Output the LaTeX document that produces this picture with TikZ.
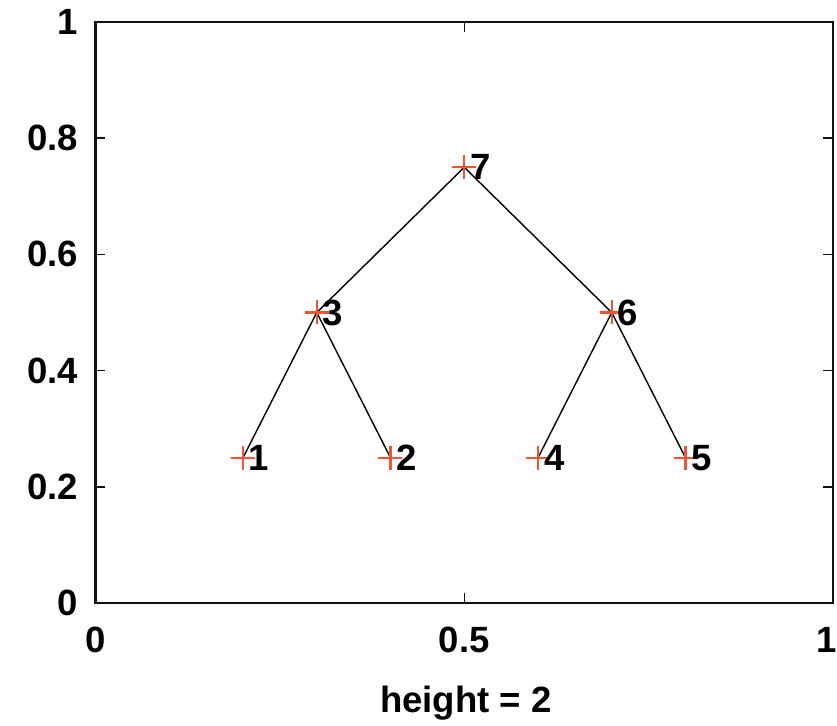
\documentclass[tikz,border=0pt]{standalone}
\usepackage{fontspec}
\setsansfont{Liberation Sans}
\usetikzlibrary{calc}
\definecolor{markred}{HTML}{EE5530}
\definecolor{axisblack}{HTML}{111111}

\begin{document}
\begin{tikzpicture}[
  font=\sffamily\bfseries\fontsize{26}{30}\selectfont,
  every node/.style={outer sep=0pt, inner sep=0pt},
  axisline/.style={axisblack, line width=1.6pt},
  tickline/.style={axisblack, line width=1.0pt},
  treeline/.style={black, line width=1.0pt},
  plusmark/.style={markred, line width=1.6pt}
]

\def\W{18.4375}
\def\H{14.525}
\def\T{0.25}
\def\M{0.3}

\useasboundingbox (-2.3875,-3.05) rectangle (18.5375,15.075);

% Tree points in data units
\foreach \n/\x/\y in {1/0.2/0.25, 2/0.4/0.25, 3/0.3/0.5, 4/0.6/0.25,
                      5/0.8/0.25, 6/0.7/0.5, 7/0.5/0.75}{
  \coordinate (p\n) at ({\x*\W},{\y*\H});
}

% Axes box and ticks
\draw[axisline] (0,0) rectangle (\W,\H);
\foreach \v in {0.2,0.4,0.6,0.8}{
  \draw[tickline] (0,\v*\H) -- ++(\T,0);
  \draw[tickline] (\W,\v*\H) -- ++(-\T,0);
  \node[anchor=east] (y\v) at (-0.44,\v*\H) {\v};
}
\draw[tickline] ({0.5*\W},0) -- ++(0,\T);
\draw[tickline] ({0.5*\W},\H) -- ++(0,-\T);

% Tick labels
\node[anchor=east] (ymin) at (-0.44,0) {0};
\node[anchor=east] (ymax) at (-0.44,\H) {1};
\node[anchor=north] (xmin) at (0,-0.6) {0};
\node[anchor=north] (xmid) at ({0.5*\W},-0.6) {0.5};
\node[anchor=north east] (xmax) at (\W+0.09,-0.6) {1};

% Axis label
\node[anchor=base] (xlabel) at ({0.5*\W+0.04},-2.725) {height = 2};

% Tree edges
\foreach \a/\b in {7/3, 7/6, 3/1, 3/2, 6/4, 6/5}{
  \draw[treeline] (p\a) -- (p\b);
}

% Markers and point labels
\foreach \n in {1,...,7}{
  \draw[plusmark] ($(p\n)+(-\M,0)$) -- ($(p\n)+(\M,0)$)
                  ($(p\n)+(0,-\M)$) -- ($(p\n)+(0,\M)$);
  \node[anchor=west] (l\n) at ($(p\n)+(0.15,0)$) {\n};
}

\end{tikzpicture}
\end{document}
